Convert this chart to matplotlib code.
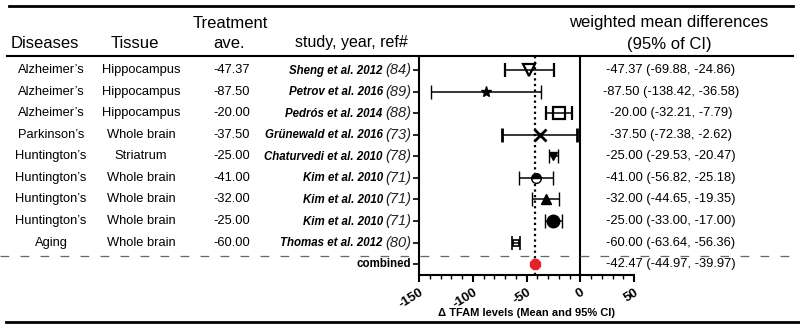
import matplotlib
matplotlib.use("Agg")
import matplotlib.pyplot as plt
from matplotlib.lines import Line2D
from matplotlib.ticker import MultipleLocator
import matplotlib.transforms as mtransforms

plt.rcParams['font.family'] = ['Liberation Sans', 'DejaVu Sans']

# table columns
diseases = ["Alzheimer’s", "Alzheimer’s", "Alzheimer’s", "Parkinson’s", "Huntington’s",
            "Huntington’s", "Huntington’s", "Huntington’s", "Aging"]
tissues = ["Hippocampus", "Hippocampus", "Hippocampus", "Whole brain", "Striatrum",
           "Whole brain", "Whole brain", "Whole brain", "Whole brain"]
treatment = [-47.37, -87.50, -20.00, -37.50, -25.00, -41.00, -32.00, -25.00, -60.00]
studies = ["Sheng et al. 2012", "Petrov et al. 2016", "Pedrós et al. 2014",
           "Grünewald et al. 2016", "Chaturvedi et al. 2010", "Kim et al. 2010",
           "Kim et al. 2010", "Kim et al. 2010", "Thomas et al. 2012"]
refs = ["84", "89", "88", "73", "78", "71", "71", "71", "80"]

# effect sizes (last entry = combined estimate)
means = treatment + [-42.47]
lower = [-69.88, -138.42, -32.21, -72.38, -29.53, -56.82, -44.65, -33.00, -63.64, -44.97]
upper = [-24.86, -36.58, -7.79, -2.62, -20.47, -25.18, -19.35, -17.00, -56.36, -39.97]
combined = -42.47
xticks = [-150, -100, -50, 0, 50]

W, H = 800, 328
fig = plt.figure(figsize=(W / 100, H / 100), dpi=100)

def fx(px):
    return px / W

def fy(py):
    return 1 - py / H

ax = fig.add_axes([fx(419), fy(275), fx(634) - fx(419), fy(57) - fy(275)])
ax.set_xlim(-150, 50)
ax.set_ylim(9.5, -0.6)

# marker style per study
styles = [
    dict(marker='v', ms=8, mfc='none', mew=1.6),
    dict(marker='*', ms=8, mfc='black', mew=1),
    dict(marker='s', ms=8, mfc='none', mew=1.6),
    dict(marker='x', ms=9, mfc='none', mew=2),
    dict(marker='v', ms=6, mfc='black', mew=1),
    dict(marker='o', ms=7, mfc='black', mew=1, fillstyle='top', markerfacecoloralt='white'),
    dict(marker='^', ms=7, mfc='black', mew=1),
    dict(marker='o', ms=9, mfc='black', mew=1),
    dict(marker='s', ms=5, mfc='none', mew=1.2),
]

for i, (m, lo, hi) in enumerate(zip(means[:-1], lower[:-1], upper[:-1])):
    ax.errorbar(m, i, xerr=[[m - lo], [hi - m]], color='black', mec='black',
                ecolor='black', elinewidth=1.1, capsize=5, capthick=1.2, zorder=3, **styles[i])

ax.errorbar(combined, 9, xerr=[[combined - lower[9]], [upper[9] - combined]],
            color='#e3222b', marker='8', ms=8, mec='#e3222b', ecolor='#e3222b',
            elinewidth=1, capsize=2, zorder=4)

ax.axvline(0, color='black', lw=1.5, zorder=2)
ax.axvline(combined, color='black', lw=1.6, ls=(0, (1, 1.5)), zorder=2)
ax.axhline(8.6, xmin=-419 / 215, xmax=(W - 419) / 215, color='#666666', lw=0.9,
           ls=(0, (7, 9)), clip_on=False)

for s in ['top', 'right']:
    ax.spines[s].set_visible(False)
for s in ['left', 'bottom']:
    ax.spines[s].set_linewidth(1.5)

ax.set_yticks(range(10))
ax.set_yticklabels([])
ax.tick_params(axis='y', length=4, width=1.2, direction='out')

ax.set_xticks(xticks)
ax.xaxis.set_minor_locator(MultipleLocator(10))
ax.tick_params(axis='x', which='major', length=5, width=1.5, direction='out', pad=3)
ax.tick_params(axis='x', which='minor', length=3, width=1.0, direction='out')
ax.set_xticklabels([str(t) for t in xticks], fontweight='bold', fontsize=9.5,
                   rotation=32, ha='right', rotation_mode='anchor')
fig.text((fx(419) + fx(634)) / 2, fy(313), "Δ TFAM levels (Mean and 95% CI)",
         ha='center', va='center', fontweight='bold', fontsize=8)

# study labels: bold italic name + italic reference number
ytrans = ax.get_yaxis_transform()
for i, (name, ref) in enumerate(zip(studies, refs)):
    rt = ax.text(-0.035, i, f"({ref})", transform=ytrans, ha='right', va='center',
                 fontsize=10.5, style='italic', color='#222222')
    ax.annotate(name, xy=(0, 0.03), xycoords=rt, xytext=(-2, 0), textcoords='offset points',
                ha='right', va='bottom', fontsize=8.3, fontweight='bold', style='italic')
ax.text(-0.035, 9, "combined", transform=ytrans, ha='right', va='center',
        fontsize=8.3, fontweight='bold')

# left-hand table columns
rowtrans = mtransforms.blended_transform_factory(fig.transFigure, ax.transData)
for i in range(9):
    ax.text(fx(51), i, diseases[i], transform=rowtrans, ha='center', va='center', fontsize=9.3)
    ax.text(fx(141), i, tissues[i], transform=rowtrans, ha='center', va='center', fontsize=9.3)
    ax.text(fx(250), i, f"{treatment[i]:.2f}", transform=rowtrans, ha='right', va='center',
            fontsize=9.3)
for i in range(10):
    ax.text(fx(671), i, f"{means[i]:.2f} ({lower[i]:.2f}, {upper[i]:.2f})",
            transform=rowtrans, ha='center', va='center', fontsize=9.3)

# header
fig.text(fx(45), fy(43), "Diseases", ha='center', va='center', fontsize=12)
fig.text(fx(135), fy(44), "Tissue", ha='center', va='center', fontsize=12)
fig.text(fx(230), fy(23), "Treatment", ha='center', va='center', fontsize=12)
fig.text(fx(229), fy(43), "ave.", ha='center', va='center', fontsize=12)
fig.text(fx(351), fy(43), "study, year, ref#", ha='center', va='center', fontsize=11.5)
fig.text(fx(669), fy(23), "weighted mean differences", ha='center', va='center', fontsize=12)
fig.text(fx(669), fy(44), "(95% of CI)", ha='center', va='center', fontsize=12)

fig.add_artist(Line2D([fx(9), fx(793)], [fy(6), fy(6)], color='black', lw=2))
fig.add_artist(Line2D([fx(7), fx(793)], [fy(56), fy(56)], color='black', lw=1.5))
fig.add_artist(Line2D([fx(6), fx(800)], [fy(322), fy(322)], color='black', lw=2))

fig.savefig("out.png", dpi=100)
